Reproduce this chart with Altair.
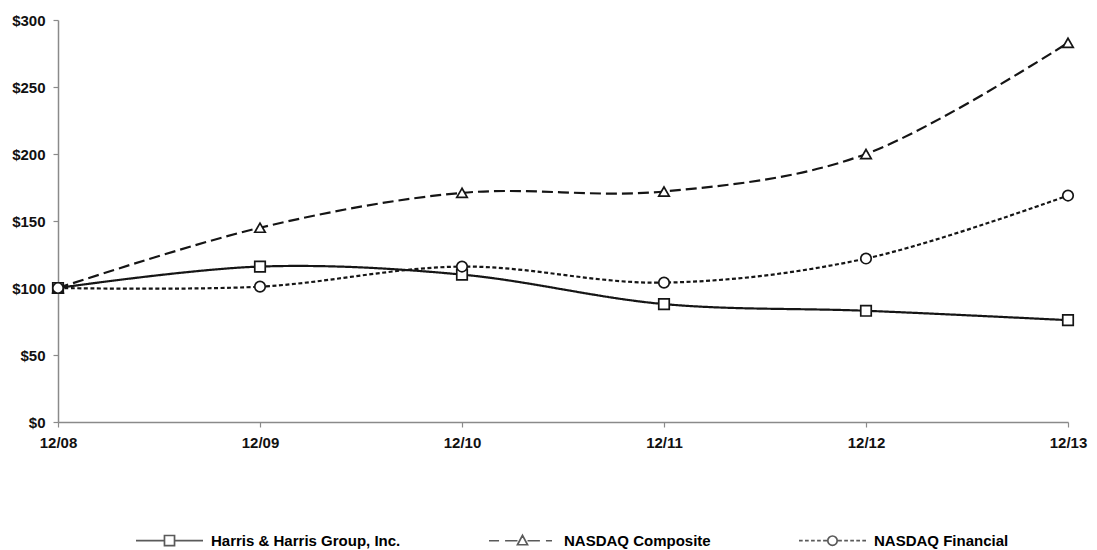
import altair as alt
import pandas as pd

# ---- data ----
periods = ["12/08", "12/09", "12/10", "12/11", "12/12", "12/13"]
series_names = ["Harris & Harris Group, Inc.", "NASDAQ Composite", "NASDAQ Financial"]
harris = [100, 116, 110, 88, 83, 76]
composite = [100, 145, 171, 172, 200, 283]
financial = [100, 101, 116, 104, 122, 169]
y_ticks = [0, 50, 100, 150, 200, 250, 300]

rows = []
for name, vals in zip(series_names, [harris, composite, financial]):
    for p, v in zip(periods, vals):
        rows.append({"period": p, "series": name, "value": v})
df = pd.DataFrame(rows)

INK = "#151515"
FONT = "Liberation Sans"

# legend symbols: line segment with the marker in its middle (unit coords, scaled by symbol size)
circ = ("M0.14,0C0.14,0.077 0.077,0.14 0,0.14C-0.077,0.14 -0.14,0.077 -0.14,0"
        "C-0.14,-0.077 -0.077,-0.14 0,-0.14C0.077,-0.14 0.14,-0.077 0.14,0Z")
legend_paths = [
    "M-1,0H-0.15M0.15,0H1M-0.15,-0.15H0.15V0.15H-0.15Z",
    "M-1,0H-0.7M-0.52,0H-0.15M0.15,0H0.52M0.7,0H0.88M0,-0.16L0.15,0.12L-0.15,0.12Z",
    "M-1,0H-0.89M-0.82,0H-0.71M-0.64,0H-0.53M-0.46,0H-0.35M-0.28,0H-0.15"
    "M0.15,0H0.28M0.35,0H0.46M0.53,0H0.64M0.71,0H0.82M0.89,0H1" + circ,
]

x_enc = alt.X(
    "period:N",
    sort=periods,
    scale=alt.Scale(type="point", padding=0),
    axis=alt.Axis(title=None, labelAngle=0, labelPadding=8, grid=False),
)
y_enc = alt.Y(
    "value:Q",
    scale=alt.Scale(domain=[0, 300], nice=False),
    axis=alt.Axis(values=y_ticks, labelExpr="'$' + datum.value", title=None,
                  grid=False, labelPadding=8),
)

lines = alt.Chart(df).mark_line(interpolate="cardinal", strokeWidth=2.2, color=INK).encode(
    x=x_enc,
    y=y_enc,
    strokeDash=alt.StrokeDash(
        "series:N",
        scale=alt.Scale(domain=series_names, range=[[1, 0], [11, 5], [4, 2.5]]),
        legend=None,
    ),
    detail="series:N",
)

points = alt.Chart(df).mark_point(
    filled=True, fill="white", fillOpacity=1, stroke=INK, strokeWidth=1.7, size=110, opacity=1
).encode(
    x=x_enc,
    y=y_enc,
    shape=alt.Shape(
        "series:N",
        scale=alt.Scale(domain=series_names, range=["square", "triangle-up", "circle"]),
        legend=None,
    ),
)

legend_layer = alt.Chart(df).transform_filter("false").mark_point(
    filled=False, color=INK, strokeWidth=1.7
).encode(
    shape=alt.Shape(
        "series:N",
        scale=alt.Scale(domain=series_names, range=legend_paths),
        legend=alt.Legend(
            title=None,
            orient="none",
            legendX=77,
            legendY=486,
            direction="horizontal",
            columnPadding=84,
            symbolSize=4489,
            symbolStrokeWidth=1.7,
            symbolStrokeColor=INK,
            symbolFillColor="transparent",
            labelFont=FONT,
            labelFontWeight="bold",
            labelFontSize=15,
            labelColor="#000000",
            labelOffset=7,
            labelLimit=500,
            padding=0,
        ),
    ),
)

chart = (
    alt.layer(lines, points, legend_layer)
    .resolve_scale(shape="independent")
    .properties(
        width=1010,
        height=402,
        autosize=alt.AutoSizeParams(type="none"),
        padding={"left": 50, "top": 12, "right": 21, "bottom": 127},
        background="white",
    )
    .configure_view(stroke=None)
    .configure_axis(
        domainColor="#8a8a8a",
        domainWidth=1.5,
        tickColor="#8a8a8a",
        tickWidth=1.2,
        tickSize=5,
        labelFont=FONT,
        labelFontWeight="bold",
        labelFontSize=15,
        labelColor="#111111",
    )
)

chart.save("out.html", embed_options={"renderer": "svg", "actions": False})
